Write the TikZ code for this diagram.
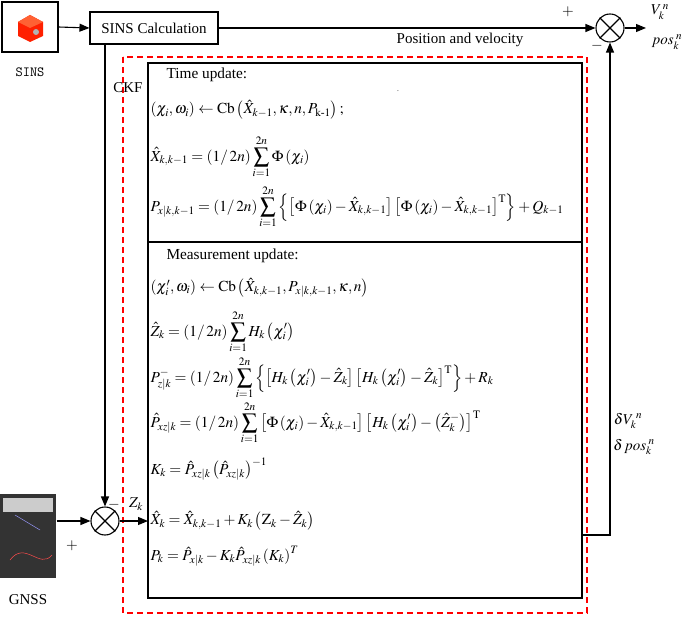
\documentclass[tikz,border=0pt]{standalone}
\usepackage{amsmath}
\usepackage{mathptmx}
\usepackage{fontspec}
\setmainfont{Liberation Serif}
\usetikzlibrary{arrows.meta}
\begin{document}
\begin{tikzpicture}[x=1pt,y=-1pt,line width=1.1pt,
  lbl/.style={font=\fontsize{15}{17}\selectfont},
  eq/.style={anchor=west,font=\fontsize{15.3}{17}\selectfont,inner sep=0pt},
  arr/.style={-{Triangle[length=10pt,width=8pt]}},
  sumc/.style={circle,draw,minimum size=28pt,inner sep=0pt}]
\useasboundingbox (0,0) rectangle (685,620);
% SINS icon
\node[draw,minimum width=56pt,minimum height=50pt] (sins) at (30,27) {};
\fill[red!75!orange] (18,22) -- (30,15) -- (43,22) -- (43,36) -- (30,42) -- (18,36) -- cycle;
\fill[red!55!orange!80!white] (18,22) -- (30,15) -- (43,22) -- (30,28) -- cycle;
\fill[gray!60] (36,32) circle (3);
\node[font=\fontsize{14}{16}\selectfont\ttfamily] (sinsl) at (30,72) {SINS};
% GNSS photo
\node[draw=none,fill=black!80,minimum width=56pt,minimum height=84pt,inner sep=0pt] (gnss) at (28,536) {};
\fill[gray!40] (3,498) rectangle (53,512);
\draw[red!70,line width=0.5pt] (10,560) .. controls (25,540) and (40,570) .. (52,555);
\draw[blue!40,line width=0.5pt] (15,515) -- (40,530);
\node[lbl] (gnssl) at (28,600) {GNSS};
% calc
\node[draw,minimum width=128pt,minimum height=32pt,inner sep=2pt,lbl] (calc) at (154,28) {SINS Calculation};
\node[sumc] (s1) at (610,28) {};
\draw (s1.north west) -- (s1.south east) (s1.north east) -- (s1.south west);
\node[sumc] (s2) at (105,521) {};
\draw (s2.north west) -- (s2.south east) (s2.north east) -- (s2.south west);
% boxes
\draw[red,dashed,line width=1.3pt,dash pattern=on 6pt off 4pt] (123,57) rectangle (587,613);
\node[draw,minimum width=434pt,minimum height=535pt,inner sep=0pt] (box) at (365,330.5) {};
\draw (148,242) -- (582,242);
% connectors
\draw[arr] (sins.east) -- (calc.west);
\draw[arr] (calc.east) -- (s1.west);
\draw[arr] (s1.east) -- (646,28);
\coordinate (cdn) at (105,44);
\draw[arr] (cdn) -- (s2.north);
\draw[arr] (gnss.east |- s2) -- (s2.west);
\draw[arr] (s2.east) -- (148,521);
\coordinate (fb1) at (582,535);
\coordinate (fb2) at (610,535);
\draw[arr] (fb1) -- (fb2) -- (s1.south);
% labels
\node[lbl] (plus1) at (568,12) {$+$};
\node[lbl] (minus1) at (597,46) {$-$};
\node[lbl] (vk) at (660,12) {$V_k^{\,n}$};
\node[lbl] (posk) at (667,42) {$pos_k^{\;n}$};
\node[lbl] (pv) at (460,40) {Position and velocity};
\node[lbl] (ckf) at (128,88) {CKF};
\node[lbl] (minus2) at (114,505) {$-$};
\node[lbl] (plus2) at (72,546) {$+$};
\node[lbl] (zk) at (136,504) {$Z_k$};
\node[lbl] (dv) at (628,421) {$\delta V_k^{\;n}$};
\node[lbl] (dp) at (634,447) {$\delta\, pos_k^{\;n}$};
\node[font=\tiny] (dash) at (398,92) {-};
% equations
\node[eq] (tu) at (166,75) {Time update:};
\node[eq] (e1) at (150,110) {$\left(\chi_i,\omega_i\right)\leftarrow \mathrm{Cb}\left(\hat X_{k-1},\kappa,n,P_{\mathrm{k\text{-}1}}\right);$};
\node[eq] (e2) at (150,157) {$\hat X_{k,k-1}=\left(1/\,2n\right)\displaystyle\sum_{i=1}^{2n}\Phi\left(\chi_i\right)$};
\node[eq] (e3) at (150,207) {$P_{x|k,k-1}=\left(1/\,2n\right)\displaystyle\sum_{i=1}^{2n}\left\{\left[\Phi\left(\chi_i\right)-\hat X_{k,k-1}\right]\left[\Phi\left(\chi_i\right)-\hat X_{k,k-1}\right]^{\mathrm T}\right\}+Q_{k-1}$};
\node[eq] (mu) at (166,256) {Measurement update:};
\node[eq] (e4) at (150,288) {$\left(\chi_i',\omega_i\right)\leftarrow \mathrm{Cb}\left(\hat X_{k,k-1},P_{x|k,k-1},\kappa,n\right)$};
\node[eq] (e5) at (150,332) {$\hat Z_k=\left(1/\,2n\right)\displaystyle\sum_{i=1}^{2n}H_k\left(\chi_i'\right)$};
\node[eq] (e6) at (150,378) {$P^-_{z|k}=\left(1/\,2n\right)\displaystyle\sum_{i=1}^{2n}\left\{\left[H_k\left(\chi_i'\right)-\hat Z_k\right]\left[H_k\left(\chi_i'\right)-\hat Z_k\right]^{\mathrm T}\right\}+R_k$};
\node[eq] (e7) at (150,423) {$\hat P_{xz|k}=\left(1/\,2n\right)\displaystyle\sum_{i=1}^{2n}\left[\Phi\left(\chi_i\right)-\hat X_{k,k-1}\right]\left[H_k\left(\chi_i'\right)-\left(\hat Z_k^-\right)\right]^{\mathrm T}$};
\node[eq] (e8) at (150,469) {$K_k=\hat P_{xz|k}\left(\hat P_{xz|k}\right)^{-1}$};
\node[eq] (e9) at (150,521) {$\hat X_k=\hat X_{k,k-1}+K_k\left(\mathrm Z_k-\hat Z_k\right)$};
\node[eq] (e10) at (150,556) {$P_k=\hat P_{x|k}-K_k\hat P_{xz|k}\left(K_k\right)^T$};
\end{tikzpicture}
\end{document}
